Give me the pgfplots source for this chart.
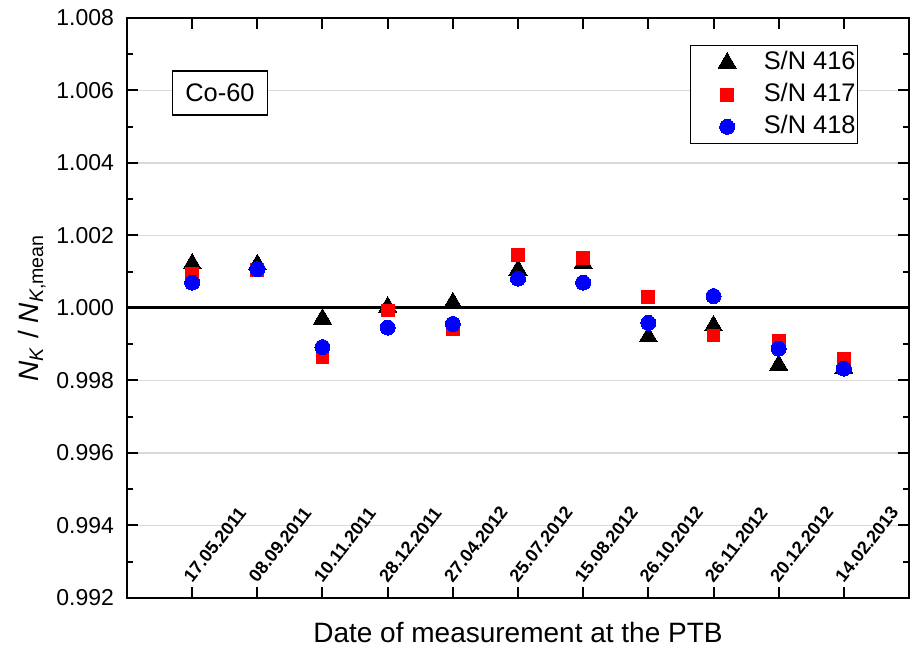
\documentclass[border=0pt]{standalone}
\usepackage{pgfplots}
\pgfplotsset{compat=1.18}
\usepackage{fontspec}
\setmainfont{Liberation Sans}
\begin{document}
\begin{tikzpicture}
\begin{axis}[
  scale only axis,
  width=391bp, height=290bp,
  xmin=-1, xmax=11,
  ymin=0.992, ymax=1.008,
  xtick={0,...,10},
  xticklabels={17.05.2011,08.09.2011,10.11.2011,28.12.2011,27.04.2012,25.07.2012,15.08.2012,26.10.2012,26.11.2012,20.12.2012,14.02.2013},
  xticklabel style={font=\fontsize{9bp}{10bp}\selectfont\bfseries, xshift=-2.5bp, yshift=9bp, rotate=52, anchor=west, inner sep=0pt},
  ytick={0.992,0.994,...,1.0081},
  minor y tick num=1,
  yticklabel style={font=\fontsize{11.5bp}{13bp}\selectfont, xshift=-3bp, /pgf/number format/fixed, /pgf/number format/fixed zerofill, /pgf/number format/precision=3, /pgf/number format/assume math mode=true},
  tick align=inside,
  major tick length=5.5bp,
  minor tick length=3bp,
  every tick/.style={black, line width=1bp},
  axis line style={line width=1.1bp},
  ymajorgrids,
  major grid style={gray!30, line width=0.6bp},
  xlabel={Date of measurement at the PTB},
  xlabel style={font=\fontsize{14bp}{16bp}\selectfont, at={(axis description cs:0.5,-0.0603)}, anchor=center},
  ylabel={\textit{N}\textsubscript{\textit{K}} / \textit{N}\textsubscript{\textit{K},mean}},
  ylabel style={font=\fontsize{14bp}{16bp}\selectfont, at={(axis description cs:-0.1215,0.5)}, anchor=center},
  legend style={at={(0.935,0.953)}, anchor=north east, draw=black, line width=0.6bp,
    font=\fontsize{12.7bp}{15bp}\selectfont, inner xsep=1bp, inner ysep=0.5bp, column sep=2bp,
    nodes={inner xsep=0pt, inner ysep=1.5bp, text height=10bp, text depth=3bp}},
  legend cell align=left,
  legend image code/.code={\path (0bp,0bp) (33bp,0bp); \draw[#1] plot coordinates {(17bp,0bp)};},
  clip=false,
]
\addplot[black, line width=1.5bp, forget plot] coordinates {(-1,1.000) (11,1.000)};
\addplot[only marks, mark=triangle*, mark size=5.2bp, black, mark options={line width=0pt}] coordinates {
(0,1.00122) (1,1.00120) (2,0.99970) (3,1.00003) (4,1.00015) (5,1.00105) (6,1.00124) (7,0.99921) (8,0.99951) (9,0.99843) (10,0.99834)};
\addlegendentry{S/N 416}
\addplot[only marks, mark=square*, mark size=3.2bp, red, mark options={line width=0pt}] coordinates {
(0,1.00095) (1,1.00104) (2,0.99865) (3,0.99993) (4,0.99943) (5,1.00147) (6,1.00139) (7,1.00030) (8,0.99924) (9,0.99909) (10,0.99860)};
\addlegendentry{S/N 417}
\addplot[only marks, mark=*, mark size=3.75bp, blue, mark options={line width=0pt, draw=blue, fill=blue}] coordinates {
(0,1.00070) (1,1.00107) (2,0.99892) (3,0.99946) (4,0.99956) (5,1.00081) (6,1.00070) (7,0.99959) (8,1.00033) (9,0.99888) (10,0.99833)};
\addlegendentry{S/N 418}
\node[draw=black, line width=0.6bp, fill=white, font=\fontsize{12.7bp}{15bp}\selectfont, minimum width=47.5bp, minimum height=22bp, inner sep=0pt] at (axis cs:0.427,1.00593) {Co-60};
\end{axis}
\pgfresetboundingbox
\path[use as bounding box] ([shift={(-63.5bp,-24.5bp)}]current axis.south west) rectangle ([shift={(0.5bp,9bp)}]current axis.north east);
\end{tikzpicture}
\end{document}
